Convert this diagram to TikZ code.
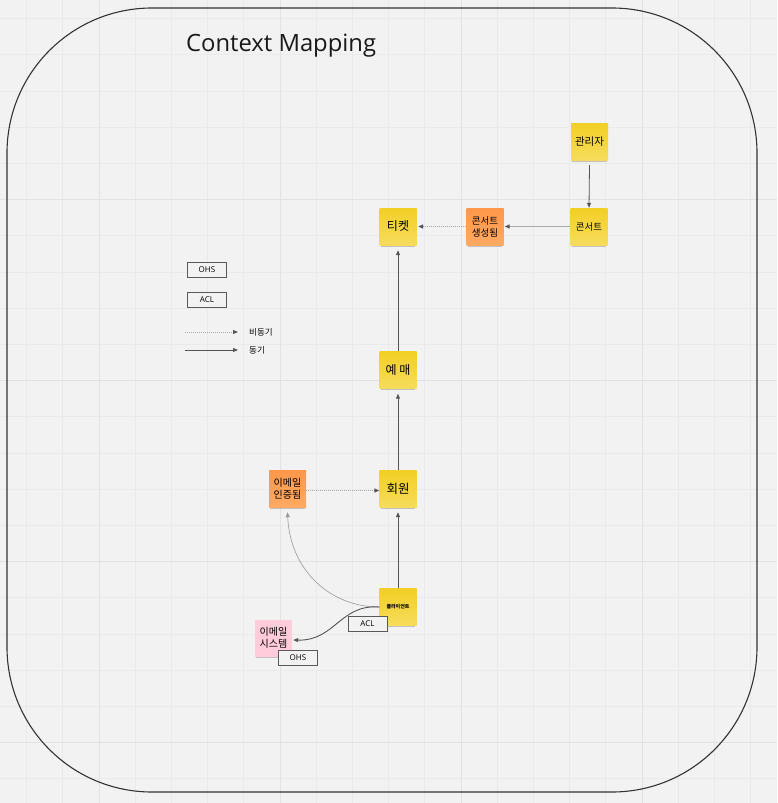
\documentclass[tikz,border=0pt]{standalone}
\usepackage{fontspec}
\setmainfont{Open Sans}
\newfontfamily\kr{Noto Sans CJK KR}
\usetikzlibrary{arrows.meta,shadows}
\definecolor{bg}{HTML}{F2F2F2}
\definecolor{gridminor}{HTML}{EAEAEA}
\definecolor{gridmajor}{HTML}{E2E2E2}
\definecolor{frame}{HTML}{333333}
\definecolor{ylwtop}{HTML}{F2CF25}
\definecolor{ylwbot}{HTML}{F6DC5C}
\definecolor{orgtop}{HTML}{FF974A}
\definecolor{orgbot}{HTML}{FFAA63}
\definecolor{pinkc}{HTML}{FFCCDC}
\definecolor{arrowdark}{HTML}{555555}
\definecolor{arrowlight}{HTML}{AAAAAA}
\tikzset{
  sticky/.style={minimum width=37pt, minimum height=37pt, inner sep=0pt, align=center,
    drop shadow={shadow xshift=0pt, shadow yshift=-3pt, shadow scale=0.94, opacity=0.35, fill=black!60}},
  ylw/.style={sticky, top color=ylwtop, bottom color=ylwbot},
  org/.style={sticky, top color=orgtop, bottom color=orgbot},
  pnk/.style={sticky, fill=pinkc},
  tag/.style={draw=black!65, line width=0.9pt, fill=bg, minimum width=39pt, minimum height=15pt, inner sep=0pt, font=\fontsize{8}{9}\selectfont},
  tip/.style={-{Triangle[length=5pt,width=4pt]}},
  sync/.style={tip, draw=arrowdark, line width=0.8pt},
  syncl/.style={tip, draw=arrowlight, line width=1.6pt, arrows={-{Triangle[length=5pt,width=4pt,color=arrowdark]}}},
  async/.style={tip, draw=arrowlight, line width=1.5pt, dash pattern=on 1pt off 1pt, arrows={-{Triangle[length=5pt,width=4pt,color=arrowdark]}}},
  lbl/.style={inner sep=0pt, font=\kr\fontsize{8.5}{9}\selectfont, anchor=west},
}
\begin{document}
\begin{tikzpicture}[x=1pt,y=-1pt]
\useasboundingbox (0,0) rectangle (777,803);
\fill[bg] (0,0) rectangle (777,803);
% grid
\foreach \i in {0,...,21} {\draw[gridminor, line width=0.8pt] ({26.6+36.2*\i},0) -- ({26.6+36.2*\i},803);}
\foreach \i in {0,...,22} {\draw[gridminor, line width=0.8pt] (0,{18.6+36.2*\i}) -- (777,{18.6+36.2*\i});}
\foreach \i in {0,...,3} {\draw[gridmajor, line width=1pt] ({99+181*\i},0) -- ({99+181*\i},803);}
\foreach \i in {0,...,3} {\draw[gridmajor, line width=1pt] (0,{199.6+181*\i}) -- (777,{199.6+181*\i});}
% frame
\draw[frame, line width=1.1pt, rounded corners=145pt] (7,8) rectangle (757,792);
% title
\node[anchor=west, inner sep=0pt, font=\fontsize{23.8}{26}\selectfont, text=black!90] (title) at (186,45.5) {Context Mapping};
% stickies
\node[ylw, font=\kr\fontsize{10.5}{12}\selectfont] (admin) at (589.5,141.5) {관리자};
\node[ylw, font=\kr\fontsize{9.5}{11}\selectfont] (concert) at (589,226.5) {콘서트};
\node[org, font=\kr\fontsize{9.5}{12}\selectfont] (created) at (485,226.5) {콘서트\\생성됨};
\node[ylw, font=\kr\fontsize{12}{14}\selectfont] (ticket) at (398,226.5) {티켓};
\node[ylw, font=\kr\fontsize{12}{14}\selectfont] (booking) at (398,370) {예 매};
\node[ylw, font=\kr\fontsize{12.5}{14}\selectfont] (member) at (398,488.5) {회원};
\node[org, font=\kr\fontsize{10}{12}\selectfont] (verified) at (287.5,488.5) {이메일\\인증됨};
\node[ylw, font=\kr\bfseries\fontsize{5}{6}\selectfont] (client) at (398,607) {클라이언트};
\node[pnk, font=\kr\fontsize{10}{12}\selectfont] (mailsys) at (273.5,638) {이메일\\시스템};
% tags
\node[tag] (acl2) at (367.5,623.5) {ACL};
\node[tag] (ohs2) at (298,658) {OHS};
% legend
\node[tag] (ohs1) at (207,269.5) {OHS};
\node[tag] (acl1) at (207,300) {ACL};
\coordinate (la1) at (185,332);
\coordinate (lb1) at (238,332);
\coordinate (la2) at (185,350);
\coordinate (lb2) at (238,350);
\draw[async, line width=0.9pt] (la1) -- (lb1);
\draw[sync] (la2) -- (lb2);
\node[lbl] (l1) at (249,332) {비동기};
\node[lbl] (l2) at (249,350) {동기};
% connectors
\draw[sync] ([yshift=-5pt]admin.south) -- (concert.north);
\draw[syncl] (concert.west) -- ([xshift=1pt]created.east);
\draw[async] (created.west) -- ([xshift=1.5pt]ticket.east);
\draw[sync] (booking.north) -- ([yshift=-5pt]ticket.south);
\draw[sync] (member.north) -- ([yshift=-5pt]booking.south);
\draw[sync] (client.north) -- ([yshift=-5pt]member.south);
\draw[async] ([yshift=-2pt]verified.east) -- ([yshift=-2pt]member.west);
\draw[tip, draw=black!40, line width=0.6pt] (client.west) .. controls (330,607) and (290,570) .. ([yshift=-5pt]verified.south);
\draw[tip, draw=arrowdark, line width=0.9pt] (client.west) .. controls (340,604) and (335,641) .. ([xshift=1pt,yshift=-2pt]mailsys.east);
\end{tikzpicture}
\end{document}
